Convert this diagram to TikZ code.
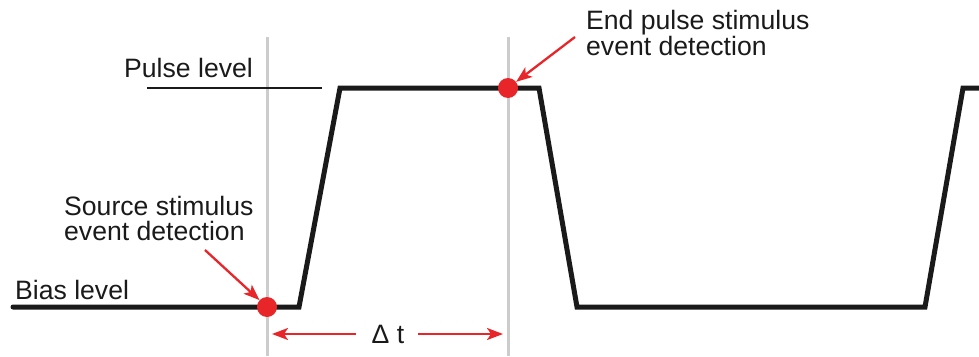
\documentclass[tikz,border=0pt]{standalone}
\usepackage{fontspec}
\setmainfont{Liberation Sans}
\usetikzlibrary{arrows.meta}
\definecolor{sigred}{HTML}{E8262A}
\definecolor{guide}{HTML}{CCCCCC}
\definecolor{ink}{HTML}{1A1A1A}
\tikzset{
  lbl/.style={font=\fontsize{26.6}{24.5}\selectfont, text=ink, inner sep=0pt, align=left},
  wave/.style={line width=5pt, ink, line join=miter},
  guideline/.style={line width=3pt, guide},
  marker/.style={circle, fill=sigred, minimum size=20pt, inner sep=0pt},
  redarrow/.style={line width=2.3pt, sigred, -{Stealth[length=16pt,width=12pt,inset=4pt]}}
}
\begin{document}
\begin{tikzpicture}[x=1pt,y=-1pt]
\useasboundingbox (0,0) rectangle (979,356);
% guide lines
\draw[guideline] (267,37) -- (267,356);
\draw[guideline] (508,37) -- (508,356);
% pulse level reference line
\draw[line width=2pt, ink] (147,88) -- (322,88);
% waveform
\draw[wave, line cap=round] (13,307) -- (299,307) -- (340,88) -- (539,88) -- (577,307) -- (925,307) -- (963,88) -- (982,88);
% markers
\node[marker] (m1) at (267,307) {};
\node[marker] (m2) at (508,88) {};
% labels
\node[lbl, anchor=base west] (bias) at (15,299) {Bias level};
\node[lbl, anchor=base west] (pulse) at (124,77) {Pulse level};
\node[lbl, anchor=base west] (src) at (64,240) {Source stimulus\\event detection};
\node[lbl, anchor=base west] (end) at (586,55) {End pulse stimulus\\event detection};
\node[lbl, anchor=base] (dt) at (388,343) {Δ t};
% arrows
\coordinate (a1) at (205,250);
\coordinate (a2) at (575,37);
\draw[redarrow] (a1) -- (m1);
\draw[redarrow] (a2) -- (m2);
\coordinate (dl) at (356,334);
\coordinate (dr) at (418,334);
\coordinate (gl) at (272,334);
\coordinate (gr) at (503,334);
\draw[redarrow] (dl) -- (gl);
\draw[redarrow] (dr) -- (gr);
\end{tikzpicture}
\end{document}
